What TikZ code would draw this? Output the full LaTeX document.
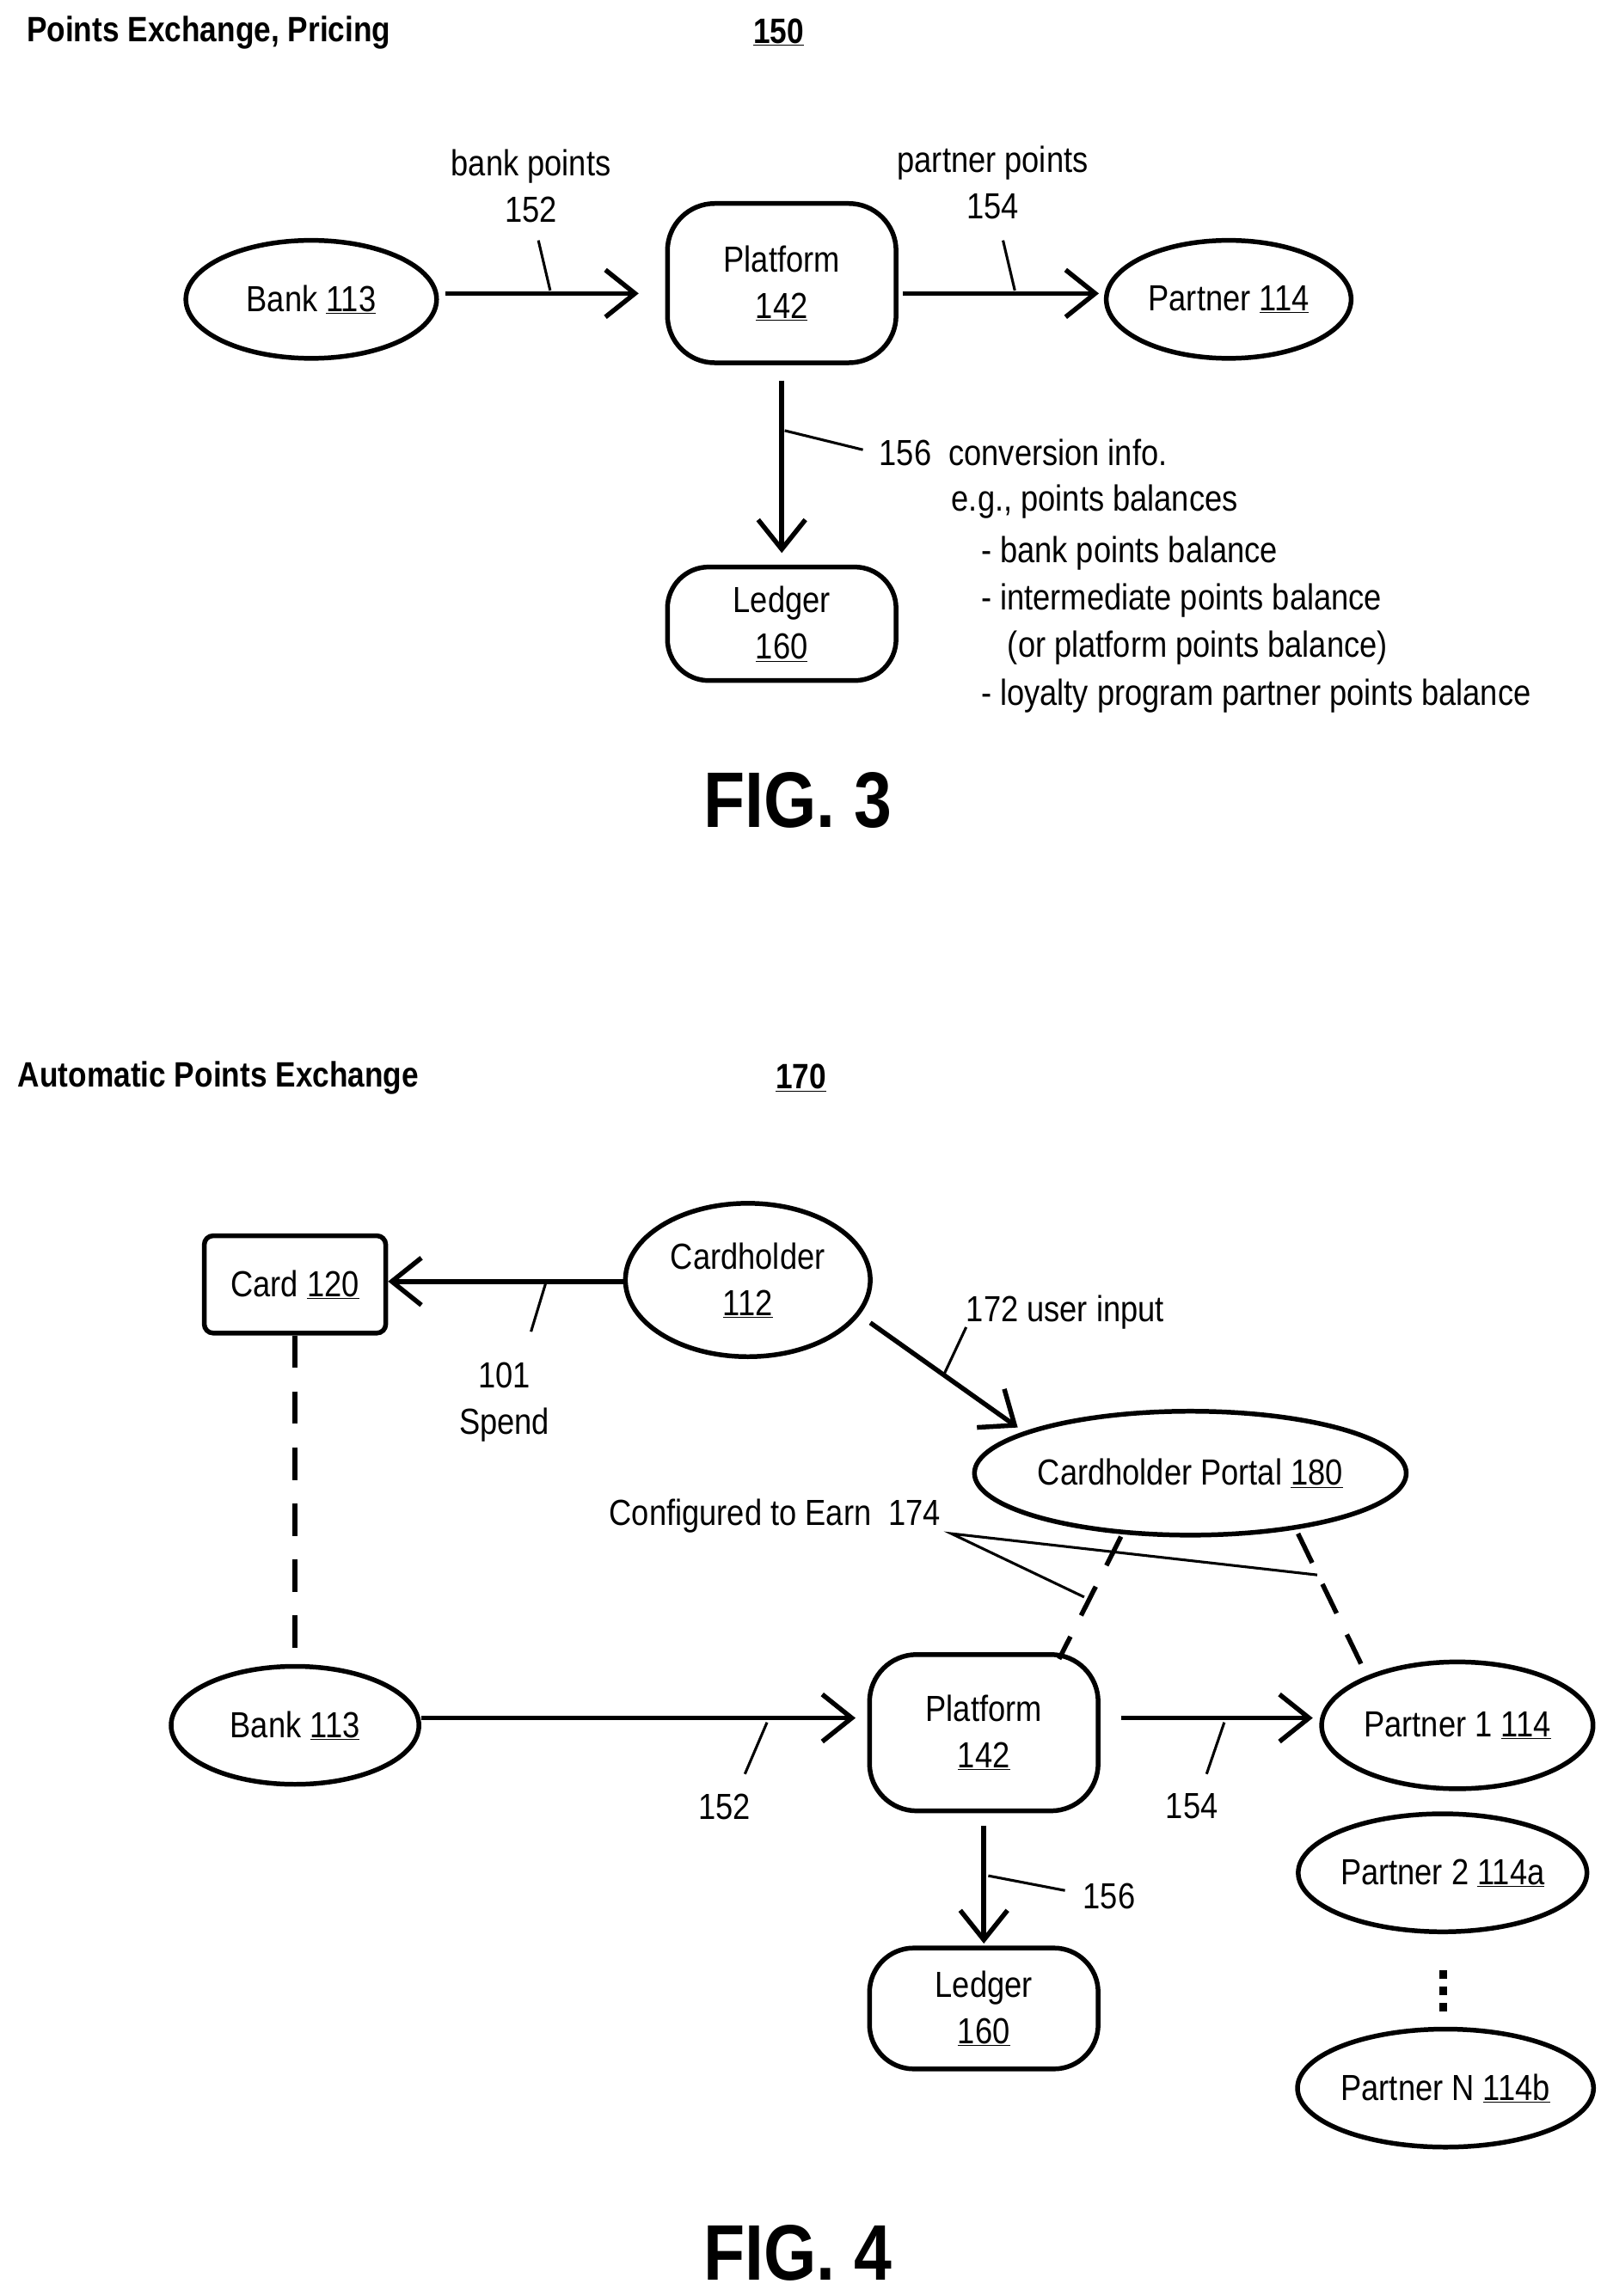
\documentclass[tikz,border=0pt]{standalone}
\usepackage{fontspec}
\setmainfont[FakeStretch=0.86]{Liberation Sans}
\usetikzlibrary{arrows.meta,shapes.geometric}
\begin{document}
\begin{tikzpicture}[x=0.05cm,y=-0.05cm,
  lw/.style={line width=0.16cm},
  thin/.style={line width=0.09cm},
  ell/.style={ellipse,draw,lw,inner sep=0pt},
  rr/.style={rectangle,draw,lw,rounded corners=1.6cm,inner sep=0pt,align=center},
  arr/.style={lw,-{Straight Barb[length=1cm,width=1.6cm]}},
  dsh/.style={lw,dash pattern=on 1.1cm off 0.8cm},
  txt/.style={font=\fontsize{35}{45}\selectfont,inner sep=0pt},
  every node/.style={font=\fontsize{35}{45}\selectfont},
  fig/.style={font=\fontsize{76}{84}\selectfont\bfseries,inner sep=0pt}]
\useasboundingbox (0,0) rectangle (1085,1557);
% FIG 3
\node[txt,anchor=west,font=\fontsize{34}{44}\selectfont\bfseries] (t3) at (18,22) {Points Exchange, Pricing};
\node[txt,font=\fontsize{34}{44}\selectfont\bfseries] (n150) at (528,22) {\underline{150}};
\node[ell,minimum width=170*0.05cm,minimum height=80*0.05cm] (bank) at (211,203) {Bank \underline{113}};
\node[rr,minimum width=155*0.05cm,minimum height=108*0.05cm] (plat) at (530,192) {Platform\\\underline{142}};
\node[ell,minimum width=166*0.05cm,minimum height=80*0.05cm] (part) at (833,203) {Partner \underline{114}};
\node[rr,minimum width=155*0.05cm,minimum height=77*0.05cm,rounded corners=1.4cm] (led) at (530,423) {Ledger\\\underline{160}};
\coordinate (a1) at (302,199); \coordinate (a2) at (433,199);
\draw[arr] (a1) -- (a2);
\coordinate (a3) at (612,199); \coordinate (a4) at (745,199);
\draw[arr] (a3) -- (a4);
\coordinate (a5) at (530,258); \coordinate (a6) at (530,375);
\draw[arr] (a5) -- (a6);
\node[txt,align=center] (l152) at (360,126) {bank points\\152};
\node[txt,align=center] (l154) at (673,124) {partner points\\154};
\coordinate (k1) at (365,163); \coordinate (k2) at (373,197);
\draw[thin] (k1) -- (k2);
\coordinate (k3) at (680,163); \coordinate (k4) at (688,197);
\draw[thin] (k3) -- (k4);
\coordinate (k5) at (532,292); \coordinate (k6) at (585,305);
\draw[thin] (k5) -- (k6);
\node[txt,anchor=west] (c1) at (596,307) {156\ \ conversion info.};
\node[txt,anchor=west] (c2) at (645,340) {e.g., points balances};
\node[txt,anchor=west] (c3) at (665,375) {- bank points balance};
\node[txt,anchor=west] (c4) at (665,407) {- intermediate points balance};
\node[txt,anchor=west] (c5) at (683,439) {(or platform points balance)};
\node[txt,anchor=west] (c6) at (665,472) {- loyalty program partner points balance};
\node[fig] (f3) at (541,543) {FIG. 3};
% FIG 4
\node[txt,anchor=west,font=\fontsize{34}{44}\selectfont\bfseries] (t4) at (12,731) {Automatic Points Exchange};
\node[txt,font=\fontsize{34}{44}\selectfont\bfseries] (n170) at (543,731) {\underline{170}};
\node[draw,lw,rounded corners=0.3cm,minimum width=123*0.05cm,minimum height=66*0.05cm,inner sep=0pt] (card) at (200,871) {Card \underline{120}};
\node[ell,minimum width=166*0.05cm,minimum height=104*0.05cm,align=center] (ch) at (507,868) {Cardholder\\\underline{112}};
\node[ell,minimum width=266*0.05cm,minimum height=84*0.05cm] (port) at (807,999) {Cardholder Portal \underline{180}};
\node[ell,minimum width=168*0.05cm,minimum height=80*0.05cm] (bank4) at (200,1170) {Bank \underline{113}};
\node[rr,minimum width=155*0.05cm,minimum height=106*0.05cm] (plat4) at (667,1175) {Platform\\\underline{142}};
\node[ell,minimum width=184*0.05cm,minimum height=86*0.05cm] (p1) at (988,1170) {Partner 1 \underline{114}};
\node[ell,minimum width=166*0.05cm,minimum height=80*0.05cm] (p2) at (978,1270) {Partner 2 \underline{114a}};
\node[ell,minimum width=166*0.05cm,minimum height=80*0.05cm] (pn) at (980,1416) {Partner N \underline{114b}};
\node[rr,minimum width=155*0.05cm,minimum height=82*0.05cm,rounded corners=1.5cm] (led4) at (667,1362) {Ledger\\\underline{160}};
\draw[arr] (ch.west |- 0,869) -- (card.east |- 0,869);
\draw[arr] (590,897) coordinate (b1) -- (690,968) coordinate (b2);
\draw[dsh] (card.south) -- (bank4.north);
\draw[arr] (bank4.east |- 0,1165) -- (580,1165) coordinate (b3);
\draw[arr] (760,1165) coordinate (b4) -- (890,1165) coordinate (b5);
\draw[arr] (667,1238) coordinate (b6) -- (667,1318) coordinate (b7);
\draw[dsh] (760,1042) coordinate (d1) -- (718,1125) coordinate (d2);
\draw[dsh] (880,1040) coordinate (d3) -- (925,1133) coordinate (d4);
\coordinate (m0) at (645,1040); \coordinate (m1) at (735,1083); \coordinate (m2) at (893,1068);
\draw[thin] (m1) -- (m0) -- (m2);
\node[txt,anchor=west] (l174) at (413,1028) {Configured to Earn\ \ 174};
\node[txt,align=center] (l101) at (342,951) {101\\Spend};
\node[txt,anchor=west] (l172) at (655,890) {172 user input};
\draw[thin] (370,870) coordinate (e1) -- (360,903) coordinate (e2);
\draw[thin] (640,932) coordinate (e3) -- (655,900) coordinate (e4);
\draw[thin] (520,1168) coordinate (e5) -- (505,1203) coordinate (e6);
\draw[thin] (830,1168) coordinate (e7) -- (818,1203) coordinate (e8);
\draw[thin] (670,1272) coordinate (e9) -- (722,1282) coordinate (e10);
\node[txt] (l152b) at (491,1225) {152};
\node[txt] (l154b) at (808,1225) {154};
\node[txt] (l156b) at (752,1286) {156};
\foreach \y [count=\i] in {1336,1347,1358} \fill (976,\y) rectangle (981,\y+6) coordinate (dot\i);
\node[fig] (f4) at (541,1528) {FIG. 4};
\end{tikzpicture}
\end{document}
